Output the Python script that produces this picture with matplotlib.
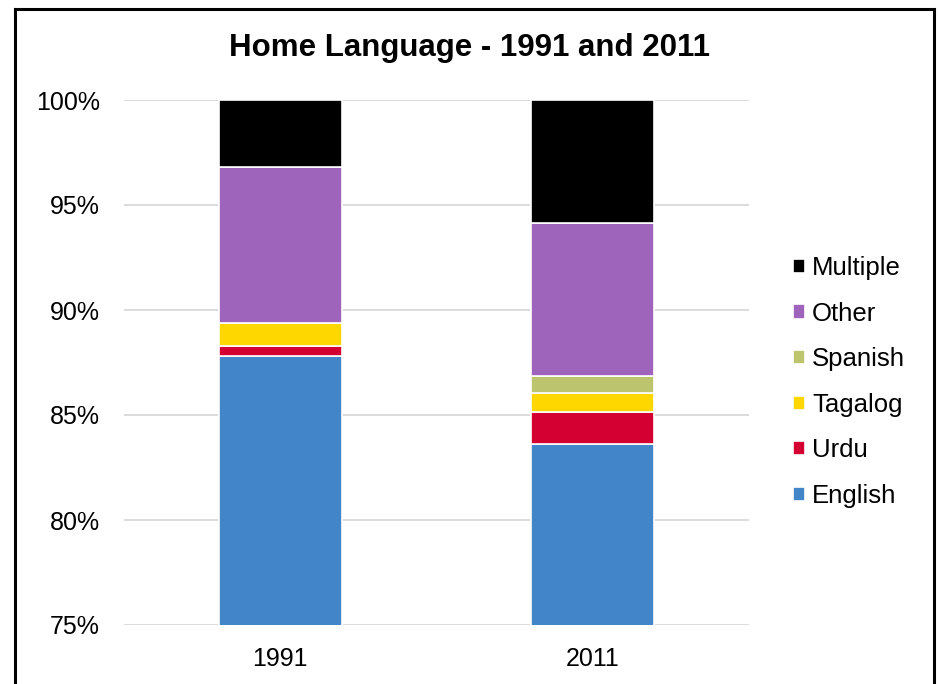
import matplotlib
matplotlib.use("Agg")
import matplotlib.pyplot as plt
from matplotlib.lines import Line2D

plt.rcParams['font.family'] = ['Liberation Sans', 'DejaVu Sans']

years = ["1991", "2011"]
series = ["English", "Urdu", "Tagalog", "Spanish", "Other", "Multiple"]
english = [87.8, 83.6]
urdu = [0.5, 1.55]
tagalog = [1.1, 0.9]
spanish = [0.0, 0.8]
other = [7.4, 7.3]
multiple = [3.2, 5.85]
values = [english, urdu, tagalog, spanish, other, multiple]
colors = ["#4286c9", "#d50032", "#ffd700", "#bcc46e", "#9e63bb", "#000000"]
yticks = [75, 80, 85, 90, 95, 100]

W, H = 938, 684
fig = plt.figure(figsize=(W/100, H/100), dpi=100)
ax = fig.add_axes([124/W, 1-625/H, 625/W, 525/H])

x = list(range(len(years)))
bottom = [0.0, 0.0]
for name, vals, c in zip(series, values, colors):
    ax.bar(x, vals, bottom=bottom, width=0.393, color=c, edgecolor="white",
           linewidth=1.2, label=name, zorder=3)
    bottom = [b + v for b, v in zip(bottom, vals)]

ax.set_xlim(-0.5, 1.5)
ax.set_ylim(75, 100)
ax.set_yticks(yticks)
ax.set_yticklabels([f"{t}%" for t in yticks])
ax.set_xticks(x)
ax.set_xticklabels(years)
ax.tick_params(axis="both", length=0, labelsize=18, colors="#000000")
ax.tick_params(axis="y", pad=17.5)
ax.tick_params(axis="x", pad=16)
ax.grid(axis="y", color="#d9d9d9", linewidth=1.3, zorder=0)
for s in ax.spines.values():
    s.set_visible(False)

fig.text(0.5, 1-48/H, "Home Language - 1991 and 2011", ha="center", va="center",
         fontsize=22.5, fontweight="bold")

handles, labels = ax.get_legend_handles_labels()
leg = ax.legend(handles[::-1], labels[::-1], loc="center left",
                bbox_to_anchor=((793-124)/625, (625-382)/525), frameon=False,
                fontsize=18.5, borderpad=0, borderaxespad=0,
                handlelength=0.47, handleheight=0.47, handletextpad=0.27,
                labelspacing=0.84)

# outer border (left, top, right)
lw = 2.2
fig.add_artist(Line2D([15/W, 15/W], [0, 1-9/H], transform=fig.transFigure,
                      color="black", linewidth=lw))
fig.add_artist(Line2D([15/W, 934/W], [1-9/H, 1-9/H], transform=fig.transFigure,
                      color="black", linewidth=lw))
fig.add_artist(Line2D([934/W, 934/W], [0, 1-9/H], transform=fig.transFigure,
                      color="black", linewidth=lw))

fig.savefig("out.png", dpi=100)
